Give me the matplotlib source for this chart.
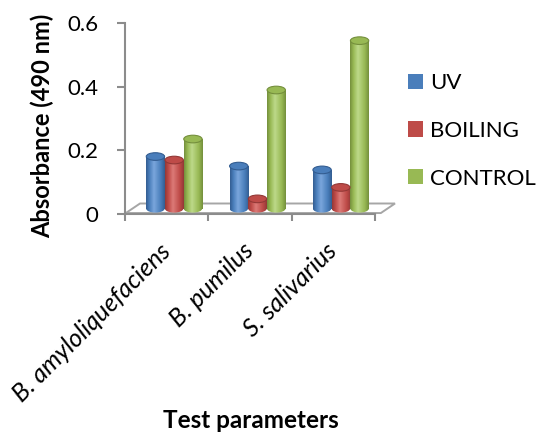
import numpy as np
import matplotlib
matplotlib.use("Agg")
import matplotlib.pyplot as plt
from matplotlib.colors import LinearSegmentedColormap
from matplotlib.patches import Ellipse, Polygon, Patch

plt.rcParams['font.family'] = ['Lato', 'DejaVu Sans']

# absorbance readings per organism
categories = ["B. amyloliquefaciens", "B. pumilus", "S. salivarius"]
uv = [0.164, 0.134, 0.122]
boiling = [0.153, 0.031, 0.067]
control = [0.219, 0.373, 0.528]
series_names = ["UV", "BOILING", "CONTROL"]
yticks = [0, 0.2, 0.4, 0.6]
yticklabels = ["0", "0.2", "0.4", "0.6"]

# (dark, base, light) for the shaded cylinders
shades = [("#335d91", "#4a7ebb", "#7aa6dc"),
          ("#933836", "#be4b48", "#dc7a77"),
          ("#748f3c", "#98b954", "#bdd98a")]

axis_grey = "#8c8c8c"
bar_w = 0.22
step = 0.225
depth_dx, depth_dy = 0.17, 0.033      # floor depth in data units
eh = 0.024                            # ellipse height of cylinder caps


def cylinder(ax, xc, bottom, height, colors):
    dark, base, light = colors
    cmap = LinearSegmentedColormap.from_list(
        "cyl", [(0, dark), (0.18, base), (0.42, light), (0.78, base), (1, dark)])
    grad = np.linspace(0, 1, 128).reshape(1, -1)
    x0, x1 = xc - bar_w / 2, xc + bar_w / 2

    body = ax.bar(xc, height, bar_w, bottom=bottom, color="none", linewidth=0)[0]
    im = ax.imshow(grad, cmap=cmap, extent=(x0, x1, bottom, bottom + height),
                   aspect="auto", zorder=3)
    im.set_clip_path(body)

    base_ell = Ellipse((xc, bottom), bar_w, eh, facecolor="none", linewidth=0)
    ax.add_patch(base_ell)
    im2 = ax.imshow(grad, cmap=cmap, extent=(x0, x1, bottom - eh / 2, bottom),
                    aspect="auto", zorder=3)
    im2.set_clip_path(base_ell)

    top = Ellipse((xc, bottom + height), bar_w, eh, facecolor=base,
                  edgecolor=dark, linewidth=0.8, zorder=4)
    ax.add_patch(top)


fig = plt.figure(figsize=(5.37, 4.34), dpi=100)
ax = fig.add_axes([125 / 537, 220 / 434, 250 / 537, 191 / 434])

# floor
floor = Polygon([(0.01, 0.003), (3.07, 0.003), (3.07 + depth_dx, depth_dy),
                 (0.01 + depth_dx, depth_dy)], closed=True,
                facecolor="white", edgecolor="#a6a6a6", linewidth=1.4,
                zorder=1, clip_on=False)
ax.add_patch(floor)

x = np.arange(len(categories)) + 0.5 + 0.09
for k, vals in enumerate([uv, boiling, control]):
    for i, v in enumerate(vals):
        cylinder(ax, x[i] + (k - 1) * step, depth_dy / 2, v, shades[k])

ax.set_xlim(0, 3)
ax.set_ylim(0, 0.6)

for s in ["top", "right"]:
    ax.spines[s].set_visible(False)
for s in ["left", "bottom"]:
    ax.spines[s].set_color(axis_grey)
    ax.spines[s].set_linewidth(1.5)
ax.spines["left"].set_bounds(0, 0.6)
ax.spines["bottom"].set_bounds(0, 3)

ax.set_yticks(yticks, yticklabels)
ax.set_xticks([0, 1, 2, 3], [])
ax.tick_params(axis="y", direction="out", length=6, width=1.5, color=axis_grey,
               pad=13, labelsize=16)
ax.tick_params(axis="x", direction="out", length=5, width=1.5, color=axis_grey)

for i, name in enumerate(categories):
    ax.annotate(name, xy=(i + 0.5, 0), xycoords="data", xytext=(0, -24),
                textcoords="offset points", rotation=45, ha="right", va="center",
                rotation_mode="anchor", fontsize=18, style="italic")

fig.text(42 / 537, 1 - 126 / 434, "Absorbance (490 nm)", rotation=90,
         ha="center", va="center", fontsize=17, fontweight="bold")
fig.text(251 / 537, 1 - 421 / 434, "Test parameters", ha="center", va="center",
         fontsize=17.5, fontweight="bold")

handles = [Patch(facecolor=c[1], edgecolor="none") for c in shades]
fig.legend(handles, series_names, loc="upper left",
           bbox_to_anchor=(408 / 537, 1 - 73 / 434), frameon=False, fontsize=16,
           handlelength=0.68, handleheight=0.68, handletextpad=0.33,
           labelspacing=1.25, borderpad=0, borderaxespad=0)

fig.savefig("out.png", dpi=100)
